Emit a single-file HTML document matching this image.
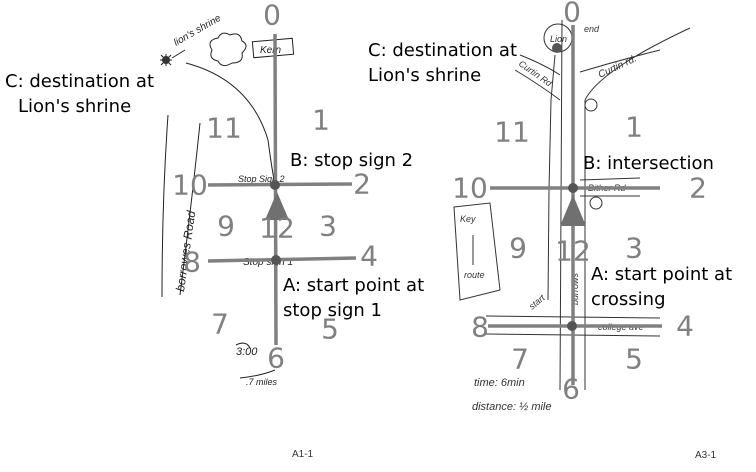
<!DOCTYPE html>
<html><head><style>body{margin:0;background:#fff}svg{display:block}</style></head><body>
<svg width="756" height="472" viewBox="0 0 756 472" xmlns="http://www.w3.org/2000/svg" font-family="'DejaVu Sans','Liberation Sans',sans-serif">
<rect width="756" height="472" fill="#fff"/>
<g fill="none" stroke="#222" stroke-width="1">
<path d="M168 115 Q162 200 162 297"/><path d="M200 123 Q192 200 180 295"/>
<path d="M186 63 Q250 80 268 140 Q272 170 275 185"/>
<path d="M275 190 L277 260"/>
<rect x="253" y="40" width="40" height="16" transform="rotate(-5 273 48)"/>
<path d="M212 50 q-6 -10 6 -12 q4 -8 12 -3 q10 -4 12 6 q8 4 0 12 q2 10 -10 10 q-10 6 -14 -2 q-10 -2 -6 -11z"/>
<path d="M160 60 l12 0 M166 54 l0 12 M161 55 l10 10 M171 55 l-10 10 M172 58 L185 50"/>
<path d="M236 345 q10 -5 14 3 M240 378 q20 -2 35 -8"/>
</g>
<circle cx="166" cy="60" r="4" fill="#333"/>
<g font-family="'Liberation Sans',sans-serif" font-size="10" fill="#222" font-style="italic">
<text x="176" y="46" transform="rotate(-30 176 46)">lion's shrine</text>
<text x="260" y="53">Kern</text>
<text x="238" y="182" font-size="9">Stop Sign 2</text>
<text x="243" y="265" font-size="10">Stop sign 1</text>
<text x="184" y="292" font-size="12" transform="rotate(-82 184 292)">borrowes Road</text>
<text x="236" y="355" font-size="11">3:00</text>
<text x="246" y="385" font-size="9">.7 miles</text>
</g>
<g fill="none" stroke="#333" stroke-width="1">
<path d="M562 20 L560 390 M585 100 L585 390"/>
<path d="M585 100 Q600 70 690 28 M580 72 Q620 60 660 50"/>
<path d="M520 55 Q545 65 560 75 M515 70 Q540 85 560 100"/>
<circle cx="558" cy="38" r="14"/>
<path d="M548 300 L549 190 L551 100 L555 55"/>
<path d="M454 207 L490 203 L500 290 L460 300 Z"/>
<path d="M473 265 L473 235"/>
<path d="M486 316 L660 318 M486 334 L660 336"/>
<path d="M580 180 L640 178 M580 196 L640 196"/>
</g>
<circle cx="591" cy="105" r="6" fill="none" stroke="#333"/>
<circle cx="596" cy="203" r="6" fill="none" stroke="#333"/>
<g font-family="'Liberation Sans',sans-serif" font-size="9" fill="#333" font-style="italic">
<text x="550" y="42">Lion</text><text x="584" y="32">end</text>
<text x="600" y="78" font-size="10" transform="rotate(-25 600 78)">Curtin rd.</text>
<text x="518" y="65" transform="rotate(35 518 65)">Curtin Rd</text>
<text x="588" y="191">Bither Rd</text>
<text x="598" y="330">college ave</text>
<text x="460" y="222">Key</text><text x="464" y="278">route</text>
<text x="532" y="310" transform="rotate(-40 532 310)">start</text>
<text x="578" y="305" transform="rotate(-90 578 305)">burrows</text>
<text x="474" y="386" font-size="11">time: 6min</text>
<text x="472" y="410" font-size="11">distance: ½ mile</text>
</g>
<g stroke="#808080" stroke-width="3.5" fill="none">
<path d="M275 34 L276 345"/><path d="M208 185 L352 184"/><path d="M208 261 L356 258"/>
<path d="M573 25 L573 385"/><path d="M490 188 L660 188"/><path d="M488 326 L662 326"/>
</g>
<polygon points="277,192 265,220 289,220" fill="#707070"/>
<polygon points="573,195 560,226 586,226" fill="#707070"/>
<g fill="#555"><circle cx="275" cy="185" r="5"/><circle cx="276" cy="260" r="5"/><circle cx="573" cy="188" r="5"/><circle cx="572" cy="326" r="5"/><circle cx="557" cy="48" r="5"/></g>
<g font-size="28" fill="#808080" text-anchor="middle" dominant-baseline="central">
<text x="272" y="15">0</text><text x="321" y="120">1</text><text x="224" y="128">11</text>
<text x="362" y="184">2</text><text x="190" y="185">10</text><text x="226" y="226">9</text>
<text x="277" y="228">12</text><text x="328" y="226">3</text><text x="192" y="262">8</text>
<text x="369" y="256">4</text><text x="220" y="324">7</text><text x="330" y="329">5</text><text x="276" y="358">6</text>
<text x="572" y="12">0</text><text x="634" y="127">1</text><text x="512" y="132">11</text>
<text x="470" y="188">10</text><text x="698" y="188">2</text><text x="518" y="248">9</text>
<text x="573" y="251">12</text><text x="634" y="248">3</text><text x="480" y="327">8</text>
<text x="685" y="326">4</text><text x="520" y="359">7</text><text x="634" y="359">5</text><text x="571" y="389">6</text>
</g>
<g font-size="18" fill="#000">
<text x="5" y="87">C: destination at</text><text x="18" y="112">Lion's shrine</text>
<text x="290" y="166">B: stop sign 2</text>
<text x="283" y="291">A: start point at</text><text x="283" y="316">stop sign 1</text>
<text x="368" y="56">C: destination at</text><text x="368" y="81">Lion's shrine</text>
<text x="583" y="169">B: intersection</text>
<text x="591" y="280">A: start point at</text><text x="591" y="305">crossing</text>
</g>
<g font-family="'Liberation Sans',sans-serif" font-size="10" fill="#333">
<text x="292" y="457">A1-1</text><text x="695" y="458">A3-1</text>
</g>
</svg>
</body></html>
